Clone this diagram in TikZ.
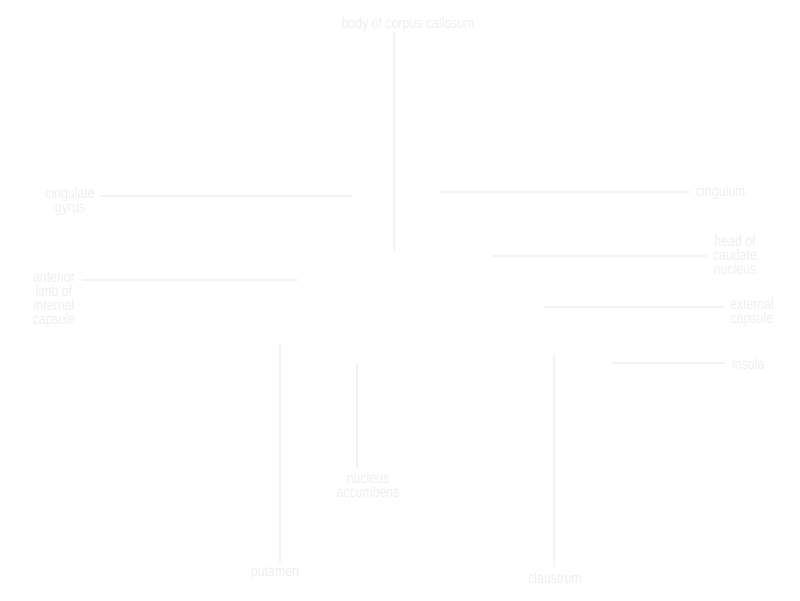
\documentclass[tikz,border=0pt]{standalone}
\usepackage{fontspec}
\setmainfont{Liberation Sans}[FakeStretch=0.80]
\definecolor{lbl}{RGB}{238,238,238}
\definecolor{ln}{RGB}{243,243,243}
\begin{document}
\begin{tikzpicture}[x=1pt,y=-1pt,
  lab/.style={text=lbl,font=\fontsize{15.4}{14}\selectfont,align=center,inner sep=0pt},
  lead/.style={draw=ln,line width=1.5pt}]
\useasboundingbox (0,0) rectangle (800,600);
% labels
\node[lab] (cc) at (408,24.5) {body of corpus callosum};
\node[lab] (cg) at (70,202) {cingulate\\gyrus};
\node[lab] (al) at (54,300) {anterior\\limb of\\internal\\capsule};
\node[lab,anchor=west] (cl) at (696,192.5) {cingulum};
\node[lab] (hc) at (735,255) {head of\\caudate\\nucleus};
\node[lab] (ec) at (752,313) {external\\capsule};
\node[lab,anchor=west] (in) at (732,363.5) {insula};
\node[lab] (pu) at (275,573.5) {putamen};
\node[lab] (na) at (368,485) {nucleus\\accumbens};
\node[lab] (cs) at (555,577.5) {claustrum};
% leader end points
\coordinate (cc1) at (394,32);  \coordinate (cc2) at (394,251);
\coordinate (cg1) at (101,196); \coordinate (cg2) at (352,196);
\coordinate (al1) at (82,280);  \coordinate (al2) at (298,280);
\coordinate (cl1) at (690,192); \coordinate (cl2) at (440,192);
\coordinate (hc1) at (707,256); \coordinate (hc2) at (492,256);
\coordinate (ec1) at (724,307); \coordinate (ec2) at (544,307);
\coordinate (in1) at (725,363); \coordinate (in2) at (612,363);
\coordinate (pu1) at (280,563); \coordinate (pu2) at (280,343);
\coordinate (na1) at (357,468); \coordinate (na2) at (357,363);
\coordinate (cs1) at (554,567); \coordinate (cs2) at (554,354);
% leaders
\draw[lead] (cc1) -- (cc2);
\draw[lead] (cg1) -- (cg2);
\draw[lead] (al1) -- (al2);
\draw[lead] (cl1) -- (cl2);
\draw[lead] (hc1) -- (hc2);
\draw[lead] (ec1) -- (ec2);
\draw[lead] (in1) -- (in2);
\draw[lead] (pu1) -- (pu2);
\draw[lead] (na1) -- (na2);
\draw[lead] (cs1) -- (cs2);
\end{tikzpicture}
\end{document}
